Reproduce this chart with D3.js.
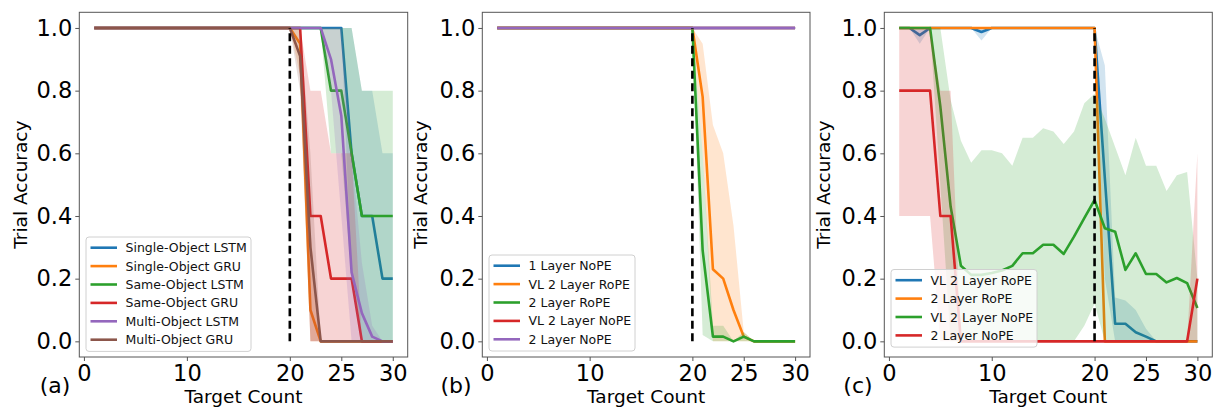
<!DOCTYPE html>
<html>
<head>
<meta charset="utf-8">
<script src="https://cdn.jsdelivr.net/npm/d3@7"></script>
<style>
  html, body { margin: 0; padding: 0; background: #fff; }
  svg { display: block; font-family: "DejaVu Sans", sans-serif; }
</style>
</head>
<body>
<svg id="chart" width="1213" height="411"></svg>
<script>
// Target counts shared by every panel
const targetCounts = [1,2,3,4,5,6,7,8,9,10,11,12,13,14,15,16,17,18,19,20,21,22,23,24,25,26,27,28,29,30];
const xTicks = [0, 10, 20, 25, 30];
const yTicks = [0, 0.2, 0.4, 0.6, 0.8, 1.0];
const trainLimit = 20;

// ---- Panel (a): recurrent models ----
const aNames = ["Single-Object LSTM", "Single-Object GRU", "Same-Object LSTM", "Same-Object GRU", "Multi-Object LSTM", "Multi-Object GRU"];
const aSingleLSTM      = [1,1,1,1,1,1,1,1,1,1,1,1,1,1,1,1,1,1,1,1,1,1,1,1,1,0.6,0.4,0.4,0.2,0.2];
const aSingleLSTMLow   = [1,1,1,1,1,1,1,1,1,1,1,1,1,1,1,1,1,1,1,1,1,1,1,1,1,0.2,0,0,0,0];
const aSingleLSTMHigh  = [1,1,1,1,1,1,1,1,1,1,1,1,1,1,1,1,1,1,1,1,1,1,1,1,1,1,0.8,0.8,0.6,0.6];
const aSingleGRU       = [1,1,1,1,1,1,1,1,1,1,1,1,1,1,1,1,1,1,1,1,0.95,0.1,0,0,0,0,0,0,0,0];
const aSingleGRULow    = [1,1,1,1,1,1,1,1,1,1,1,1,1,1,1,1,1,1,1,1,0.85,0,0,0,0,0,0,0,0,0];
const aSingleGRUHigh   = [1,1,1,1,1,1,1,1,1,1,1,1,1,1,1,1,1,1,1,1,1,0.35,0,0,0,0,0,0,0,0];
const aSameLSTM        = [1,1,1,1,1,1,1,1,1,1,1,1,1,1,1,1,1,1,1,1,1,1,1,0.8,0.8,0.6,0.4,0.4,0.4,0.4];
const aSameLSTMLow     = [1,1,1,1,1,1,1,1,1,1,1,1,1,1,1,1,1,1,1,1,1,1,1,0.6,0.6,0.2,0,0,0,0];
const aSameLSTMHigh    = [1,1,1,1,1,1,1,1,1,1,1,1,1,1,1,1,1,1,1,1,1,1,1,1,1,1,0.8,0.8,0.8,0.8];
const aSameGRU         = [1,1,1,1,1,1,1,1,1,1,1,1,1,1,1,1,1,1,1,1,1,0.4,0.4,0.2,0.2,0.2,0,0,0,0];
const aSameGRULow      = [1,1,1,1,1,1,1,1,1,1,1,1,1,1,1,1,1,1,1,1,1,0,0,0,0,0,0,0,0,0];
const aSameGRUHigh     = [1,1,1,1,1,1,1,1,1,1,1,1,1,1,1,1,1,1,1,1,1,0.8,0.8,0.6,0.6,0.6,0,0,0,0];
const aMultiLSTM       = [1,1,1,1,1,1,1,1,1,1,1,1,1,1,1,1,1,1,1,1,1,1,1,0.9,0.72,0.22,0.09,0.015,0,0];
const aMultiLSTMLow    = [1,1,1,1,1,1,1,1,1,1,1,1,1,1,1,1,1,1,1,1,1,1,1,0.8,0.4,0,0,0,0,0];
const aMultiLSTMHigh   = [1,1,1,1,1,1,1,1,1,1,1,1,1,1,1,1,1,1,1,1,1,1,1,1,1,0.6,0.25,0.05,0,0];
const aMultiGRU        = [1,1,1,1,1,1,1,1,1,1,1,1,1,1,1,1,1,1,1,1,0.91,0.3,0,0,0,0,0,0,0,0];
const aMultiGRULow     = [1,1,1,1,1,1,1,1,1,1,1,1,1,1,1,1,1,1,1,1,0.8,0,0,0,0,0,0,0,0,0];
const aMultiGRUHigh    = [1,1,1,1,1,1,1,1,1,1,1,1,1,1,1,1,1,1,1,1,1,0.6,0,0,0,0,0,0,0,0];

// ---- Panel (b): transformer variants ----
const bNames = ["1 Layer NoPE", "VL 2 Layer RoPE", "2 Layer RoPE", "VL 2 Layer NoPE", "2 Layer NoPE"];
const bOneNoPE         = [1,1,1,1,1,1,1,1,1,1,1,1,1,1,1,1,1,1,1,1,1,1,1,1,1,1,1,1,1,1];
const bVLRoPE          = [1,1,1,1,1,1,1,1,1,1,1,1,1,1,1,1,1,1,1,1,0.78,0.23,0.2,0.1,0.015,0,0,0,0,0];
const bVLRoPELow       = [1,1,1,1,1,1,1,1,1,1,1,1,1,1,1,1,1,1,1,1,0.6,0,0,0,0,0,0,0,0,0];
const bVLRoPEHigh      = [1,1,1,1,1,1,1,1,1,1,1,1,1,1,1,1,1,1,1,1,0.95,0.69,0.6,0.37,0.03,0,0,0,0,0];
const bTwoRoPE         = [1,1,1,1,1,1,1,1,1,1,1,1,1,1,1,1,1,1,1,1,0.29,0.015,0.015,0,0.015,0,0,0,0,0];
const bTwoRoPELow      = [1,1,1,1,1,1,1,1,1,1,1,1,1,1,1,1,1,1,1,1,0.02,0,0,0,0,0,0,0,0,0];
const bTwoRoPEHigh     = [1,1,1,1,1,1,1,1,1,1,1,1,1,1,1,1,1,1,1,1,0.6,0.05,0.05,0,0.03,0,0,0,0,0];
const bVLNoPE          = [1,1,1,1,1,1,1,1,1,1,1,1,1,1,1,1,1,1,1,1,1,1,1,1,1,1,1,1,1,1];
const bTwoNoPE         = [1,1,1,1,1,1,1,1,1,1,1,1,1,1,1,1,1,1,1,1,1,1,1,1,1,1,1,1,1,1];

// ---- Panel (c): transformer variants, second setting ----
const cNames = ["VL 2 Layer RoPE", "2 Layer RoPE", "VL 2 Layer NoPE", "2 Layer NoPE"];
const cVLRoPE          = [1,1,0.977,1,1,1,1,1,0.987,1,1,1,1,1,1,1,1,1,1,1,0.52,0.056,0.056,0.029,0.015,0,0,0,0,0];
const cVLRoPELow       = [1,1,0.95,1,1,1,1,1,0.96,1,1,1,1,1,1,1,1,1,1,1,0.2,0,0,0,0,0,0,0,0,0];
const cVLRoPEHigh      = [1,1,1,1,1,1,1,1,1,1,1,1,1,1,1,1,1,1,1,1,0.88,0.14,0.13,0.1,0.04,0,0,0,0,0];
const cTwoRoPE         = [1,1,1,1,1,1,1,1,1,1,1,1,1,1,1,1,1,1,1,1,0,0,0,0,0,0,0,0,0,0];
const cVLNoPE          = [1,1,1,1,0.75,0.43,0.241,0.212,0.212,0.218,0.226,0.241,0.281,0.281,0.308,0.308,0.279,0.334,0.393,0.451,0.361,0.35,0.228,0.281,0.215,0.215,0.188,0.202,0.186,0.106];
const cVLNoPELow       = [1,1,1,1,0.5,0,0,0,0,0,0,0,0,0,0,0,0,0,0.05,0.12,0,0,0,0,0,0,0,0,0,0];
const cVLNoPEHigh      = [1,1,1,1,1,0.77,0.64,0.57,0.61,0.61,0.6,0.56,0.65,0.65,0.68,0.67,0.63,0.67,0.76,0.79,0.71,0.62,0.53,0.65,0.56,0.56,0.48,0.53,0.54,0.2];
const cTwoNoPE         = [0.8,0.8,0.8,0.8,0.4,0.4,0,0,0,0,0,0,0,0,0,0,0,0,0,0,0,0,0,0,0,0,0,0,0,0.2];
const cTwoNoPELow      = [0.4,0.4,0.4,0.4,0,0,0,0,0,0,0,0,0,0,0,0,0,0,0,0,0,0,0,0,0,0,0,0,0,0];
const cTwoNoPEHigh     = [1,1,1,1,0.8,0.8,0,0,0,0,0,0,0,0,0,0,0,0,0,0,0,0,0,0,0,0,0,0,0,0.6];

const palette = ["#1f77b4", "#ff7f0e", "#2ca02c", "#d62728", "#9467bd", "#8c564b"];

const panels = [
  {
    tag: "(a)", left: 79.3, right: 407.7, ylabX: 21, tagX: 55,
    legend: { x: 86, y: 237, w: 165, rows: 6 },
    series: [
      { name: aNames[0], mean: aSingleLSTM, lo: aSingleLSTMLow, hi: aSingleLSTMHigh },
      { name: aNames[1], mean: aSingleGRU,  lo: aSingleGRULow,  hi: aSingleGRUHigh },
      { name: aNames[2], mean: aSameLSTM,   lo: aSameLSTMLow,   hi: aSameLSTMHigh },
      { name: aNames[3], mean: aSameGRU,    lo: aSameGRULow,    hi: aSameGRUHigh },
      { name: aNames[4], mean: aMultiLSTM,  lo: aMultiLSTMLow,  hi: aMultiLSTMHigh },
      { name: aNames[5], mean: aMultiGRU,   lo: aMultiGRULow,   hi: aMultiGRUHigh }
    ]
  },
  {
    tag: "(b)", left: 482.3, right: 810, ylabX: 421, tagX: 456,
    legend: { x: 489, y: 255, w: 146, rows: 5 },
    series: [
      { name: bNames[0], mean: bOneNoPE },
      { name: bNames[1], mean: bVLRoPE,  lo: bVLRoPELow,  hi: bVLRoPEHigh },
      { name: bNames[2], mean: bTwoRoPE, lo: bTwoRoPELow, hi: bTwoRoPEHigh },
      { name: bNames[3], mean: bVLNoPE },
      { name: bNames[4], mean: bTwoNoPE }
    ]
  },
  {
    tag: "(c)", left: 884.3, right: 1212.3, ylabX: 824, tagX: 858,
    legend: { x: 891, y: 269.5, w: 146, rows: 4 },
    series: [
      { name: cNames[0], mean: cVLRoPE,  lo: cVLRoPELow,  hi: cVLRoPEHigh },
      { name: cNames[1], mean: cTwoRoPE },
      { name: cNames[2], mean: cVLNoPE,  lo: cVLNoPELow,  hi: cVLNoPEHigh },
      { name: cNames[3], mean: cTwoNoPE, lo: cTwoNoPELow, hi: cTwoNoPEHigh }
    ]
  }
];

const svg = d3.select("#chart");
const plotTop = 12.3, plotBottom = 357;

panels.forEach((p, pi) => {
  const x = d3.scaleLinear().domain([-0.45, 31.45]).range([p.left, p.right]);
  const y = d3.scaleLinear().domain([-0.05, 1.05]).range([plotBottom, plotTop]);
  const g = svg.append("g");

  const clipId = "clip-panel-" + pi;
  svg.append("clipPath").attr("id", clipId)
    .append("rect").attr("x", p.left).attr("y", plotTop)
    .attr("width", p.right - p.left).attr("height", plotBottom - plotTop);
  const plot = g.append("g").attr("clip-path", `url(#${clipId})`);

  const line = d3.line().x((d, i) => x(targetCounts[i])).y(d => y(d));
  p.series.forEach((s, k) => {
    const color = palette[k];
    if (s.lo) {
      const area = d3.area()
        .x((d, i) => x(targetCounts[i]))
        .y0((d, i) => y(s.lo[i]))
        .y1((d, i) => y(s.hi[i]));
      plot.append("path").datum(s.mean).attr("d", area)
        .attr("fill", color).attr("fill-opacity", 0.2).attr("stroke", "none");
    }
    plot.append("path").datum(s.mean).attr("d", line)
      .attr("fill", "none").attr("stroke", color)
      .attr("stroke-width", 2.6).attr("stroke-linejoin", "round");
  });

  // training-range boundary
  plot.append("line")
    .attr("x1", x(trainLimit)).attr("x2", x(trainLimit))
    .attr("y1", y(0)).attr("y2", y(1))
    .attr("stroke", "#000").attr("stroke-width", 2.6)
    .attr("stroke-dasharray", "8,4.5");

  // frame
  g.append("rect").attr("x", p.left).attr("y", plotTop)
    .attr("width", p.right - p.left).attr("height", plotBottom - plotTop)
    .attr("fill", "none").attr("stroke", "#555").attr("stroke-width", 1);

  // axes
  const xAxis = d3.axisBottom(x).tickValues(xTicks).tickSize(4).tickPadding(4)
    .tickFormat(d3.format("d"));
  const gx = g.append("g").attr("transform", `translate(0,${plotBottom})`).call(xAxis);
  const yAxis = d3.axisLeft(y).tickValues(yTicks).tickSize(4).tickPadding(3)
    .tickFormat(d3.format(".1f"));
  const gy = g.append("g").attr("transform", `translate(${p.left},0)`).call(yAxis);
  [gx, gy].forEach(ax => {
    ax.select(".domain").remove();
    ax.selectAll(".tick line").attr("stroke", "#555").attr("stroke-width", 1);
    ax.selectAll(".tick text").attr("fill", "#000")
      .style("font-size", "22.5px").style("font-family", "DejaVu Sans, sans-serif");
  });

  g.append("text").attr("x", (p.left + p.right) / 2).attr("y", 403)
    .attr("text-anchor", "middle").style("font-size", "18.5px").attr("fill", "#000")
    .text("Target Count");
  g.append("text")
    .attr("transform", `translate(${p.ylabX + 6},${(plotTop + plotBottom) / 2}) rotate(-90)`)
    .attr("text-anchor", "middle").style("font-size", "18.5px").attr("fill", "#000")
    .text("Trial Accuracy");
  g.append("text").attr("x", p.tagX).attr("y", 393)
    .attr("text-anchor", "middle").style("font-size", "22px").attr("fill", "#000")
    .text(p.tag);

  // legend
  const L = p.legend, rowH = 18.4;
  const lg = g.append("g");
  lg.append("rect").attr("x", L.x).attr("y", L.y).attr("width", L.w)
    .attr("height", L.rows * rowH + 4).attr("rx", 3)
    .attr("fill", "#fff").attr("fill-opacity", 0.8)
    .attr("stroke", "#d0d0d0").attr("stroke-width", 1);
  p.series.forEach((s, k) => {
    const cy = L.y + 10.7 + k * rowH;
    lg.append("line").attr("x1", L.x + 4.5).attr("x2", L.x + 31)
      .attr("y1", cy).attr("y2", cy)
      .attr("stroke", palette[k]).attr("stroke-width", 2.6);
    lg.append("text").attr("x", L.x + 39.5).attr("y", cy).attr("dy", "0.36em")
      .style("font-size", "12.5px").attr("fill", "#111").text(s.name);
  });
});
</script>
</body>
</html>
